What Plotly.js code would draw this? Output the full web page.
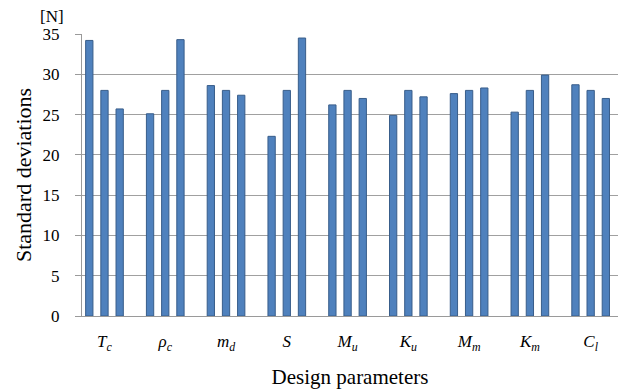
<!DOCTYPE html>
<html>
<head>
<meta charset="utf-8">
<script src="https://cdn.plot.ly/plotly-3.0.1.min.js"></script>
<style>html,body{margin:0;padding:0;background:#fff;}#chart{width:620px;height:390px;}</style>
</head>
<body>
<div id="chart"></div>
<script>
// Design parameters (italic symbols with subscripts)
const categories = [
  '<i>T</i><sub><i>c</i></sub>',
  '<i>ρ</i><sub><i>c</i></sub>',
  '<i>m</i><sub><i>d</i></sub>',
  '<i>S</i>',
  '<i>M</i><sub><i>u</i></sub>',
  '<i>K</i><sub><i>u</i></sub>',
  '<i>M</i><sub><i>m</i></sub>',
  '<i>K</i><sub><i>m</i></sub>',
  '<i>C</i><sub><i>l</i></sub>'
];

// Standard deviations [N] for the low / nominal / high setting of each parameter
const lowLevel     = [34.2, 25.1, 28.6, 22.3, 26.2, 24.9, 27.6, 25.3, 28.7];
const nominalLevel = [28.0, 28.0, 28.0, 28.0, 28.0, 28.0, 28.0, 28.0, 28.0];
const highLevel    = [25.7, 34.3, 27.4, 34.5, 27.0, 27.2, 28.3, 29.9, 27.0];

const yTicks = [0, 5, 10, 15, 20, 25, 30, 35];

const xIdx = categories.map((_, i) => i);

function series(values, name) {
  return {
    type: 'bar',
    name: name,
    x: xIdx,
    y: values,
    marker: { color: '#4f81bd', line: { color: '#385d8a', width: 1 } },
    hoverinfo: 'y'
  };
}

const data = [
  series(lowLevel, 'low'),
  series(nominalLevel, 'nominal'),
  series(highLevel, 'high')
];

const serif = 'Liberation Serif';

const layout = {
  width: 620,
  height: 390,
  margin: { l: 82, r: 2, t: 34, b: 74 },
  paper_bgcolor: '#ffffff',
  plot_bgcolor: '#ffffff',
  showlegend: false,
  barmode: 'group',
  bargap: 0.25,
  bargroupgap: 0.52,
  font: { family: serif, color: '#000' },
  xaxis: {
    range: [-0.37, 8.45],
    tickmode: 'array',
    tickvals: xIdx,
    ticktext: categories,
    ticks: '',
    ticklabelstandoff: 10,
    showgrid: false,
    zeroline: false,
    showline: true,
    linecolor: '#9a9a9a',
    linewidth: 1,
    tickfont: { family: serif, size: 17, color: '#000' },
    title: { text: 'Design parameters', font: { family: serif, size: 21, color: '#000' }, standoff: 16 }
  },
  yaxis: {
    range: [0, 35],
    tickmode: 'array',
    tickvals: yTicks,
    ticks: 'outside',
    ticklen: 6,
    tickcolor: '#9a9a9a',
    ticklabelstandoff: 12,
    showgrid: true,
    gridcolor: '#a0a0a0',
    gridwidth: 1,
    zeroline: false,
    showline: true,
    linecolor: '#9a9a9a',
    linewidth: 1,
    tickfont: { family: serif, size: 17, color: '#000' },
    title: { text: 'Standard deviations', font: { family: serif, size: 22, color: '#000' }, standoff: 4 }
  },
  annotations: [{
    xref: 'paper', yref: 'paper',
    x: -0.03, y: 1.02,
    xanchor: 'right', yanchor: 'bottom',
    text: '[N]',
    showarrow: false,
    font: { family: serif, size: 17, color: '#000' }
  }]
};

Plotly.newPlot('chart', data, layout, { staticPlot: true, displayModeBar: false });
</script>
</body>
</html>
